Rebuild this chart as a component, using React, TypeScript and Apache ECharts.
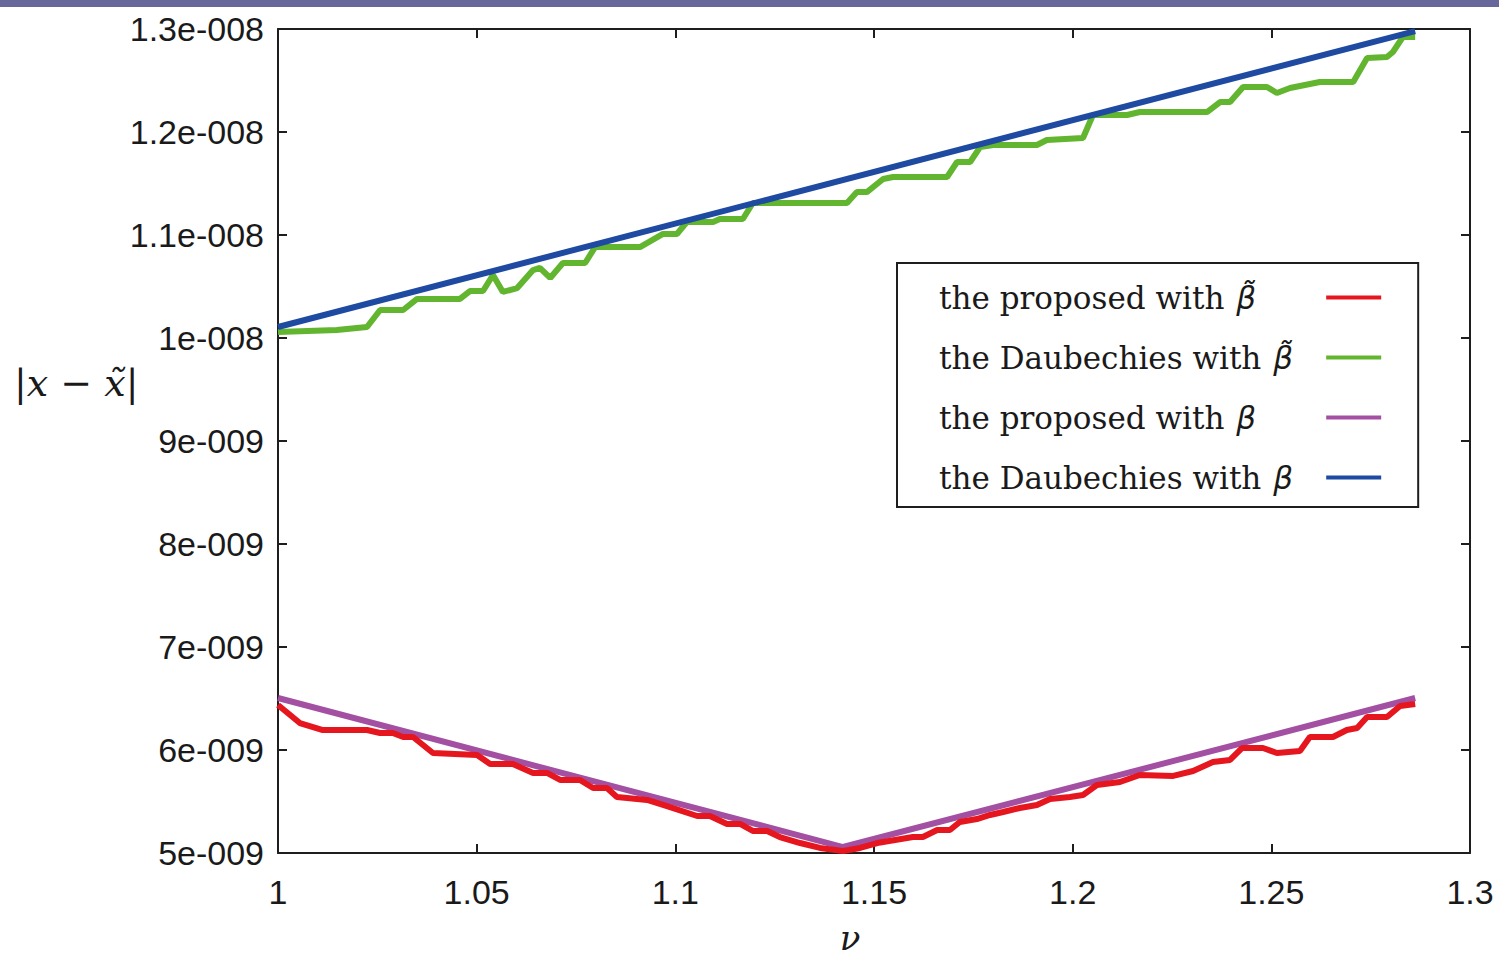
import React, { useEffect, useRef } from "react";
import * as echarts from "echarts";

// values in units of 1e-9
const greenNu = [1.0, 1.0148, 1.0224, 1.0257, 1.0315, 1.035, 1.0458, 1.0483, 1.0516, 1.0541, 1.0566, 1.0602, 1.0642, 1.0659, 1.0685, 1.0717, 1.0773, 1.0798, 1.0911, 1.0969, 1.1004, 1.1029, 1.1095, 1.1112, 1.117, 1.1195, 1.1432, 1.1457, 1.1482, 1.1523, 1.1548, 1.1684, 1.1709, 1.1742, 1.1767, 1.18, 1.191, 1.1935, 1.2026, 1.2051, 1.2137, 1.2169, 1.2338, 1.2371, 1.2396, 1.2429, 1.2489, 1.2514, 1.2547, 1.2622, 1.2706, 1.2741, 1.2791, 1.2806, 1.2831, 1.2862];
const greenVal = [10.058, 10.078, 10.107, 10.272, 10.272, 10.379, 10.379, 10.456, 10.456, 10.612, 10.447, 10.485, 10.66, 10.68, 10.583, 10.728, 10.728, 10.883, 10.883, 11.01, 11.01, 11.126, 11.126, 11.155, 11.155, 11.311, 11.311, 11.417, 11.417, 11.544, 11.563, 11.563, 11.709, 11.709, 11.854, 11.874, 11.874, 11.922, 11.942, 12.165, 12.165, 12.194, 12.194, 12.291, 12.291, 12.437, 12.437, 12.379, 12.427, 12.485, 12.485, 12.718, 12.728, 12.777, 12.922, 12.922];

const redNu = [1.0, 1.0055, 1.0113, 1.0224, 1.0257, 1.0289, 1.0315, 1.034, 1.039, 1.0501, 1.0534, 1.0591, 1.0642, 1.0677, 1.071, 1.076, 1.0793, 1.0828, 1.0853, 1.0929, 1.0979, 1.1055, 1.1087, 1.113, 1.1163, 1.1195, 1.1231, 1.1263, 1.1314, 1.1364, 1.1422, 1.1465, 1.1508, 1.1598, 1.1623, 1.1659, 1.1691, 1.1716, 1.1759, 1.1792, 1.1825, 1.1867, 1.191, 1.1943, 1.1993, 1.2026, 1.2061, 1.2119, 1.2169, 1.2253, 1.2303, 1.2353, 1.2396, 1.2426, 1.2479, 1.2514, 1.2572, 1.2597, 1.2655, 1.269, 1.2716, 1.2741, 1.2791, 1.2824, 1.2862];
const redVal = [6.437, 6.262, 6.194, 6.194, 6.165, 6.165, 6.126, 6.126, 5.971, 5.951, 5.864, 5.864, 5.777, 5.777, 5.709, 5.709, 5.631, 5.631, 5.544, 5.515, 5.456, 5.359, 5.359, 5.282, 5.282, 5.214, 5.214, 5.155, 5.097, 5.049, 5.019, 5.049, 5.097, 5.155, 5.155, 5.223, 5.223, 5.301, 5.33, 5.369, 5.398, 5.437, 5.466, 5.524, 5.544, 5.563, 5.66, 5.689, 5.757, 5.748, 5.796, 5.883, 5.903, 6.019, 6.019, 5.971, 5.99, 6.126, 6.126, 6.194, 6.214, 6.32, 6.32, 6.427, 6.447];

const purpleNu = [1.0, 1.1422, 1.2862];
const purpleVal = [6.505, 5.058, 6.505];

const blueNu = [1.0, 1.2862];
const blueVal = [10.107, 12.98];

const names = [
  "the proposed with β̃",
  "the Daubechies with β̃",
  "the proposed with β",
  "the Daubechies with β",
];

const zip = (a: number[], b: number[]) => a.map((x, i) => [x, b[i]]);

const fmtY = (v: number) => {
  const e = Math.floor(Math.log10(v) + 1e-9) - 9;
  const m = Math.round((v / Math.pow(10, e + 9)) * 10) / 10;
  return `${m}e-${String(-e).padStart(3, "0")}`;
};

export default function App() {
  const ref = useRef<HTMLDivElement>(null);
  useEffect(() => {
    const chart = echarts.init(ref.current!, null, { renderer: "svg" });
    const axisLine = { show: true, lineStyle: { color: "#1e1e1e", width: 2 } };
    const tick = { show: true, inside: true, length: 9, lineStyle: { color: "#1e1e1e", width: 2 } };
    const labelFont = { fontFamily: "Liberation Sans", fontSize: 34, color: "#1a1a1a" };
    const serif = "DejaVu Serif";
    const mathSym = "DejaVu Sans";
    const legendTextWidth = 383;
    const symWidth = 24;
    const ctx = document.createElement("canvas").getContext("2d");
    const measure = (s: string) => {
      if (!ctx) return s.length * 16;
      ctx.font = `31px "${serif}"`;
      return ctx.measureText(s).width;
    };
    chart.setOption({
      animation: false,
      backgroundColor: "#ffffff",
      grid: { left: 278, right: 29, top: 29, bottom: 105 },
      xAxis: [
        {
          type: "value", min: 1, max: 1.3, interval: 0.05, position: "bottom",
          axisLine, axisTick: tick, splitLine: { show: false },
          axisLabel: { ...labelFont, margin: 22 },
        },
        {
          type: "value", min: 1, max: 1.3, interval: 0.05, position: "top",
          axisLine, axisTick: tick, splitLine: { show: false }, axisLabel: { show: false },
        },
      ],
      yAxis: [
        {
          type: "value", min: 5, max: 13, interval: 1, position: "left",
          axisLine, axisTick: tick, splitLine: { show: false },
          axisLabel: { ...labelFont, margin: 14, formatter: fmtY, padding: [0, 0, 6, 0] },
        },
        {
          type: "value", min: 5, max: 13, interval: 1, position: "right",
          axisLine, axisTick: tick, splitLine: { show: false }, axisLabel: { show: false },
        },
      ],
      legend: {
        data: names,
        orient: "vertical",
        align: "right",
        left: 897,
        top: 263,
        padding: [19, 37, 14, 42],
        itemGap: 29,
        itemWidth: 55,
        itemHeight: 4,
        icon: "rect",
        borderColor: "#1e1e1e",
        borderWidth: 2,
        backgroundColor: "#ffffff",
        selectedMode: false,
        formatter: (name: string) => {
          const i = name.lastIndexOf(" ");
          const words = name.slice(0, i + 1);
          const wa = Math.ceil(measure(words));
          const rest = Math.max(1, legendTextWidth - wa - symWidth);
          return `{a|${words}}{b|${name.slice(i + 1)}}{c| }`.replace("{c| }", `{c${rest > 0 ? "" : ""}| }`) + "";
        },
        textStyle: {
          fontFamily: serif,
          fontSize: 31,
          color: "#1a1a1a",
          rich: {
            a: { fontFamily: serif, fontSize: 31, color: "#1a1a1a", lineHeight: 40 },
            b: { fontFamily: mathSym, fontSize: 31, fontStyle: "italic", color: "#1a1a1a", width: symWidth, align: "left", lineHeight: 40 },
            c: { fontFamily: serif, fontSize: 31, lineHeight: 40, width: legendTextWidth - Math.ceil(measure("the Daubechies with ")) - symWidth },
            d: { fontFamily: serif, fontSize: 31, lineHeight: 40, width: legendTextWidth - Math.ceil(measure("the proposed with ")) - symWidth },
          },
        },
      },
      graphic: [
        { type: "rect", left: 0, top: 0, shape: { width: 1499, height: 7 }, style: { fill: "#67679b" } },
        {
          type: "text", left: 14, top: 364,
          style: {
            text: "{n||}{i|x}{n| − }{i|x̃}{n||}",
            fill: "#1a1a1a",
            rich: {
              n: { fontFamily: serif, fontSize: 38, fill: "#1a1a1a" },
              i: { fontFamily: serif, fontSize: 38, fontStyle: "italic", fill: "#1a1a1a" },
            },
          },
        },
        {
          type: "text", x: 850, y: 938,
          style: { text: "ν", fontFamily: serif, fontSize: 34, fontStyle: "italic", fill: "#1a1a1a", align: "center", verticalAlign: "middle" },
        },
      ],
      series: [
        { name: names[1], type: "line", data: zip(greenNu, greenVal), showSymbol: false, clip: false, color: "#62b52f", lineStyle: { width: 6, color: "#62b52f" } },
        { name: names[3], type: "line", data: zip(blueNu, blueVal), showSymbol: false, clip: false, color: "#1e4aa1", lineStyle: { width: 6, color: "#1e4aa1" } },
        { name: names[2], type: "line", data: zip(purpleNu, purpleVal), showSymbol: false, clip: false, color: "#a350a3", lineStyle: { width: 6, color: "#a350a3" } },
        { name: names[0], type: "line", data: zip(redNu, redVal), showSymbol: false, clip: false, color: "#e6161f", lineStyle: { width: 6, color: "#e6161f" } },
      ],
    });
    // use the spacer style matching each label's first words
    chart.setOption({
      legend: {
        formatter: (name: string) => {
          const i = name.lastIndexOf(" ");
          const words = name.slice(0, i + 1);
          const spacer = words.includes("Daubechies") ? "c" : "d";
          return `{a|${words}}{b|${name.slice(i + 1)}}{${spacer}| }`;
        },
      },
    });
    return () => chart.dispose();
  }, []);
  return (
    <div
      ref={ref}
      style={{ position: "fixed", left: 0, top: 0, width: 1499, height: 958 }}
    />
  );
}
